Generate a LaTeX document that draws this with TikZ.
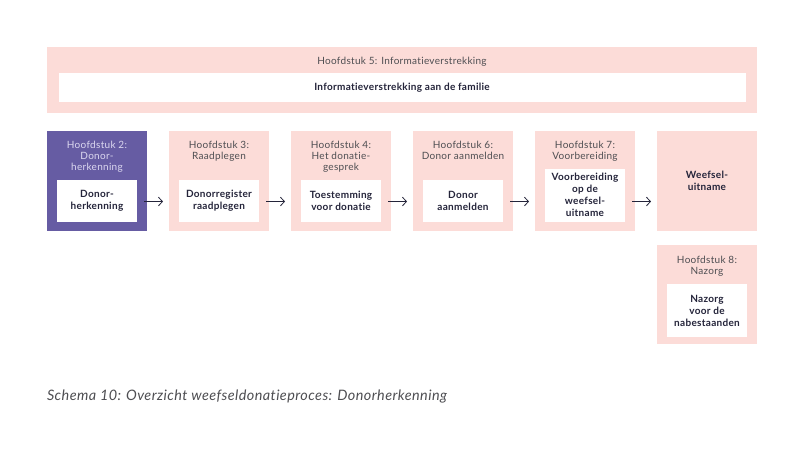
\documentclass[tikz,border=0pt]{standalone}
\usepackage{fontspec}
\setmainfont[LetterSpace=3,Ligatures=CommonOff]{Lato}
\usetikzlibrary{positioning}
\usetikzlibrary{arrows.meta}

\definecolor{roze}{HTML}{FCDCD8}
\definecolor{paars}{HTML}{665CA3}
\definecolor{lila}{HTML}{DCD8F0}
\definecolor{grijs}{HTML}{4E4E52}
\definecolor{donker}{HTML}{24243A}

\newcommand\kopfont{\fontsize{7.5}{8.25}\selectfont}
\newcommand\inhoudfont{\fontsize{7.5}{9}\selectfont\bfseries}
\newcommand\bijschriftfont{\fontsize{10.8}{12}\selectfont\itshape}

\begin{document}
\begin{tikzpicture}[x=0.75pt,y=-0.75pt,
        node distance=16.5pt,
        every node/.style={inner sep=0pt,outer sep=0pt},
        hfdstuk/.style={fill=roze,minimum width=75pt,minimum height=74.25pt},
        actief/.style={hfdstuk,fill=paars},
        kop/.style={align=center,text=grijs,font=\kopfont},
        inhoud/.style={fill=white,minimum width=60pt,minimum height=31.5pt,
            align=center,text=donker,font=\inhoudfont},
        pijl/.style={->,>={Straight Barb[length=3pt,width=6.5pt]},line width=0.6pt,
            draw=donker,shorten <=-2.25pt,shorten >=4.5pt}]
        \fill[white] (0,0) rectangle (805,474);
        \useasboundingbox (0,0) rectangle (805,474);
        % bovenste balk
        \node[hfdstuk,minimum width=532.5pt,minimum height=49.5pt] (h5) at (402,80) {};
        \node[kop,below=7.5pt of h5.north] (k5) {Hoofdstuk 5: Informatieverstrekking};
        \node[inhoud,minimum width=515.25pt,minimum height=21.75pt,
            below=19.5pt of h5.north] (i5) {Informatieverstrekking aan de familie};
        % de rij hoofdstukken
        \node[actief] (h2) at (97,181) {};
        \node[hfdstuk,right=of h2] (h3) {};
        \node[hfdstuk,right=of h3] (h4) {};
        \node[hfdstuk,right=of h4] (h6) {};
        \node[hfdstuk,right=of h6] (h7) {};
        \node[hfdstuk,right=of h7,align=center,text=donker,font=\inhoudfont] (uitname) {Weefsel-\\uitname};
        \node[hfdstuk,below=11pt of uitname] (h8) {};
        % koppen
        \node[kop,text=lila,below=7.5pt of h2.north] (k2) {Hoofdstuk 2:\\Donor-\\herkenning};
        \node[kop,below=7.5pt of h3.north] (k3) {Hoofdstuk 3:\\Raadplegen};
        \node[kop,below=7.5pt of h4.north] (k4) {Hoofdstuk 4:\\Het donatie-\\gesprek};
        \node[kop,below=7.5pt of h6.north] (k6) {Hoofdstuk 6:\\Donor aanmelden};
        \node[kop,below=7.5pt of h7.north] (k7) {Hoofdstuk 7:\\Voorbereiding};
        \node[kop,below=8.25pt of h8.north] (k8) {Hoofdstuk 8:\\Nazorg};
        % inhoud
        \node[inhoud,above=6.75pt of h2.south] (i2) {Donor-\\herkenning};
        \node[inhoud,above=6.75pt of h3.south] (i3) {Donorregister\\raadplegen};
        \node[inhoud,above=6.75pt of h4.south] (i4) {Toestemming\\voor donatie};
        \node[inhoud,above=6.75pt of h6.south] (i6) {Donor\\aanmelden};
        \node[inhoud,minimum height=39.75pt,above=6.75pt of h7.south] (i7) {Voorbereiding\\op de\\weefsel-\\uitname};
        \node[inhoud,minimum height=39.75pt,above=5.25pt of h8.south] (i8) {Nazorg\\voor de\\nabestaanden};
        % pijlen
        \foreach \van/\naar in {h2/h3,h3/h4,h4/h6,h6/h7,h7/uitname}
            \draw[pijl] ([yshift=-15.4pt]\van.east) -- ([yshift=-15.4pt]\naar.west);
        \node[anchor=west,text=grijs,font=\bijschriftfont] (bijschrift) at (47,397)
            {Schema 10: Overzicht weefseldonatieproces: Donorherkenning};
    \end{tikzpicture}
\end{document}
